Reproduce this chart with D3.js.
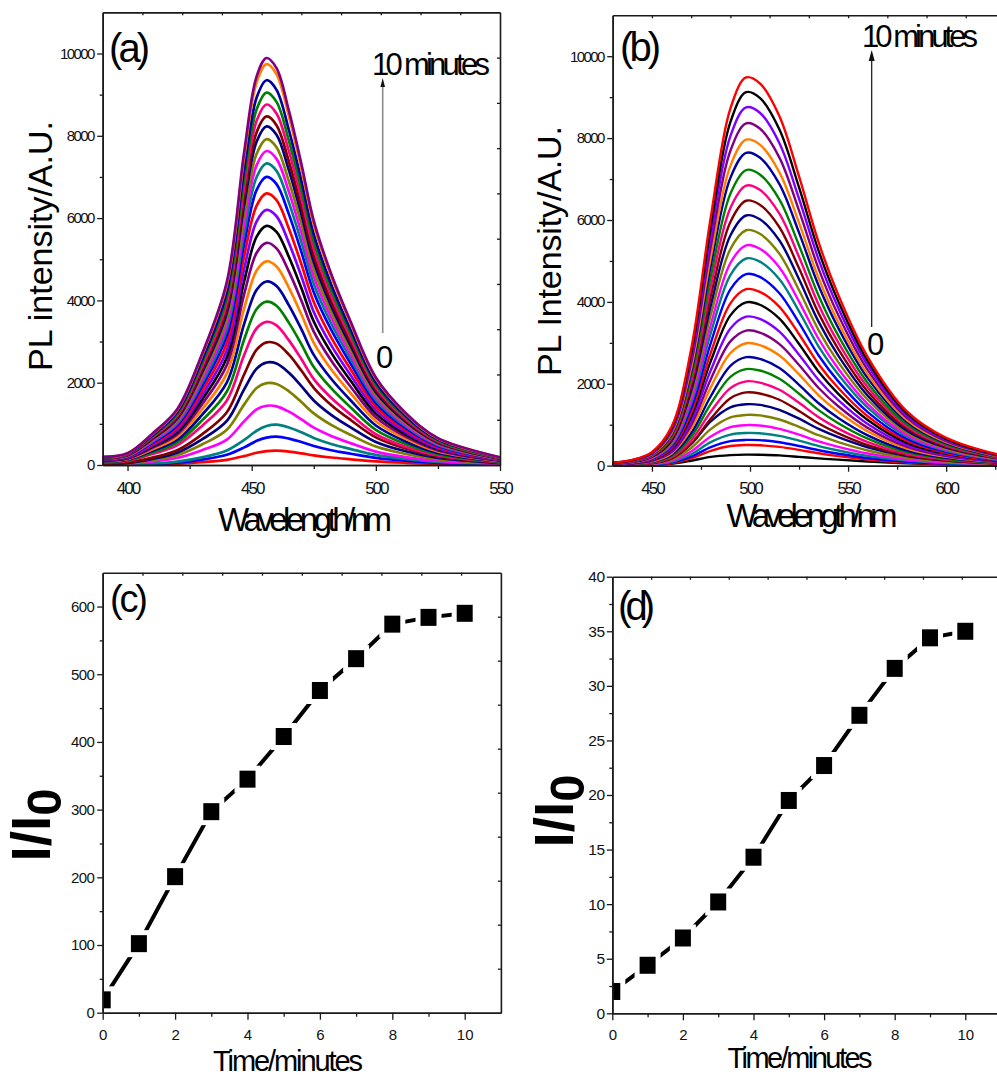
<!DOCTYPE html>
<html><head><meta charset="utf-8">
<script src="https://cdn.jsdelivr.net/npm/d3@7"></script>
<style>
body{margin:0;background:#fff;}
svg{display:block;background:#fff;}
</style></head><body>
<svg id="chart" width="997" height="1078"></svg>
<script>
// ---------------- data ----------------
const wavelengthA = [390,400,410,420,430,440,447,452,456,460,465,470,475,482,490,500,512,525,550];
const intensityA = [
 [0,3,12,30,67,126,217,298,338,350,326,284,235,182,138,88,53,27,8],
 [0,6,24,59,131,248,428,587,666,690,642,559,462,359,273,173,104,54,17],
 [0,8,34,83,186,353,608,833,946,980,911,794,657,510,387,245,147,76,24],
 [14,29,86,173,360,619,1066,1354,1440,1426,1296,1109,907,706,526,324,193,101,30],
 [20,40,119,239,498,856,1473,1871,1990,1970,1791,1532,1254,975,726,448,267,139,42],
 [25,50,149,299,623,1071,1843,2341,2490,2465,2241,1917,1569,1220,909,560,334,174,52],
 [30,60,179,358,745,1281,2205,2801,2980,2950,2682,2295,1877,1460,1088,671,399,209,63],
 [70,101,268,477,950,1566,2680,3323,3480,3393,3028,2575,2088,1636,1218,748,445,230,66],
 [79,115,306,544,1084,1787,3057,3791,3970,3871,3454,2938,2382,1866,1390,854,508,262,75],
 [89,129,343,611,1218,2007,3434,4259,4460,4349,3880,3300,2676,2096,1561,959,571,294,85],
 [99,144,381,678,1351,2228,3812,4727,4950,4826,4307,3663,2970,2327,1733,1064,634,327,94],
 [108,157,416,740,1474,2430,4158,5157,5400,5265,4698,3996,3240,2538,1890,1161,691,356,103],
 [116,168,447,796,1586,2615,4474,5549,5810,5665,5055,4299,3486,2731,2034,1249,744,383,110],
 [124,180,477,849,1693,2790,4774,5921,6200,6045,5394,4588,3720,2914,2170,1333,794,409,118],
 [132,191,508,904,1802,2970,5082,6303,6600,6435,5742,4884,3960,3102,2310,1419,845,436,125],
 [140,203,539,959,1911,3150,5390,6685,7000,6825,6090,5180,4200,3290,2450,1505,896,462,133],
 [147,213,564,1004,2001,3299,5644,7000,7330,7147,6377,5424,4398,3445,2566,1576,938,484,139],
 [153,221,588,1045,2083,3434,5875,7287,7630,7439,6638,5646,4578,3586,2671,1640,977,504,145],
 [158,230,610,1085,2162,3564,6098,7564,7920,7722,6890,5861,4752,3722,2772,1703,1014,523,150],
 [165,239,634,1128,2247,3704,6337,7860,8230,8024,7160,6090,4938,3868,2881,1769,1053,543,156],
 [169,246,652,1160,2312,3812,6522,8089,8470,8258,7369,6268,5082,3981,2965,1821,1084,559,161],
 [175,254,675,1200,2391,3942,6745,8366,8760,8541,7621,6482,5256,4117,3066,1883,1121,578,166],
 [181,262,697,1240,2471,4073,6969,8643,9050,8824,7874,6697,5430,4254,3168,1946,1158,597,172],
 [187,271,720,1281,2553,4208,7200,8929,9350,9116,8135,6919,5610,4395,3273,2010,1197,617,178],
 [195,282,750,1334,2659,4383,7500,9302,9740,9497,8474,7208,5844,4578,3409,2094,1247,643,185],
 [198,287,762,1355,2700,4451,7615,9445,9890,9643,8604,7319,5934,4648,3462,2126,1266,653,188]
];
const wavelengthB = [430,440,450,460,470,480,490,498,505,515,525,535,545,560,580,600,630];
const intensityB = [
 [3,7,16,46,122,216,259,270,267,251,216,178,149,103,57,32,11],
 [5,9,21,60,177,364,480,505,500,460,386,303,235,152,78,41,14],
 [6,11,26,74,221,454,599,630,624,573,482,378,293,189,98,52,17],
 [7,14,33,94,280,576,760,800,792,728,612,480,372,240,124,66,22],
 [9,17,41,117,347,713,941,990,980,901,757,594,460,297,153,81,27],
 [11,21,51,146,434,893,1178,1240,1228,1128,949,744,577,372,192,102,33],
 [14,26,62,177,525,1080,1425,1500,1485,1365,1148,900,698,450,233,123,41],
 [14,27,63,179,537,1146,1647,1790,1763,1611,1334,1029,788,501,251,129,43],
 [16,31,72,206,618,1318,1895,2060,2029,1854,1535,1185,906,577,288,148,49],
 [19,35,83,236,708,1510,2171,2360,2325,2124,1758,1357,1038,661,330,170,57],
 [21,40,93,265,795,1696,2438,2650,2610,2385,1974,1524,1166,742,371,191,64],
 [24,45,105,299,897,1914,2751,2990,2945,2691,2228,1719,1316,837,419,215,72],
 [26,50,116,330,990,2112,3036,3300,3251,2970,2459,1898,1452,924,462,238,79],
 [29,55,127,364,1092,2330,3349,3640,3585,3276,2712,2093,1602,1019,510,262,87],
 [32,60,140,399,1197,2554,3671,3990,3930,3591,2973,2294,1756,1117,559,287,96],
 [34,65,151,431,1293,2758,3965,4310,4245,3879,3211,2478,1896,1207,603,310,103],
 [37,70,164,468,1404,2995,4306,4680,4610,4212,3487,2691,2059,1310,655,337,112],
 [40,76,177,506,1518,3238,4655,5060,4984,4554,3770,2910,2226,1417,708,364,121],
 [43,81,188,538,1614,3443,4950,5380,5299,4842,4008,3094,2367,1506,753,387,129],
 [46,86,201,575,1725,3680,5290,5750,5664,5175,4284,3306,2530,1610,805,414,138],
 [49,92,214,611,1833,3910,5621,6110,6018,5499,4552,3513,2688,1711,855,440,147],
 [52,97,226,647,1941,4141,5952,6470,6373,5823,4820,3720,2847,1812,906,466,155],
 [55,103,239,684,2052,4378,6293,6840,6737,6156,5096,3933,3010,1915,958,492,164],
 [58,108,253,722,2166,4621,6642,7220,7112,6498,5379,4152,3177,2022,1011,520,173],
 [61,115,267,764,2292,4890,7029,7640,7525,6876,5692,4393,3362,2139,1070,550,183],
 [64,119,279,796,2388,5094,7323,7960,7841,7164,5930,4577,3502,2229,1114,573,191],
 [67,125,293,836,2508,5350,7691,8360,8235,7524,6228,4807,3678,2341,1170,602,201],
 [70,131,306,875,2625,5600,8050,8750,8619,7875,6519,5031,3850,2450,1225,630,210],
 [73,137,319,912,2736,5837,8390,9120,8983,8208,6794,5244,4013,2554,1277,657,219],
 [76,142,332,948,2844,6067,8722,9480,9338,8532,7063,5451,4171,2654,1327,683,228]
];
const timeMinutes = [0,1,2,3,4,5,6,7,8,9,10];
const ratioC = [19,102,201,297,345,408,476,523,574,584,590];
const ratioD = [2.0,4.4,6.9,10.2,14.3,19.5,22.7,27.3,31.6,34.4,35.0];

const xTicksA = [400,450,500,550], xMinorA = [425,475,525];
const xTicksB = [450,500,550,600], xMinorB = [475,525,575,625];
const yTicksPL = [0,2000,4000,6000,8000,10000], yMinorPL = [1000,3000,5000,7000,9000];
const timeTicks = [0,2,4,6,8,10], timeMinor = [1,3,5,7,9];
const yTicksC = [0,100,200,300,400,500,600], yMinorC = [50,150,250,350,450,550];
const yTicksD = [0,5,10,15,20,25,30,35,40], yMinorD = [2.5,7.5,12.5,17.5,22.5,27.5,32.5,37.5];

// ---------------- styles ----------------
const FONT = '"Liberation Sans", Arial, sans-serif';
const COL = {black:'#000000', red:'#ff0000', blue:'#0000ff', teal:'#008080', magenta:'#ff00ff',
  olive:'#808000', navy:'#000080', wine:'#800000', pink:'#ff0080', green:'#008000',
  royal:'#0000a0', orange:'#ff8000', purple:'#800080', violet:'#8000ff'};
const paletteA = ['red','blue','teal','magenta','olive','navy','wine','pink','green','royal','orange','purple','black','violet',
  'red','blue','teal','magenta','olive','navy','wine','pink','green','royal','orange','purple'].map(k=>COL[k]);
const paletteB = ['black','red','blue','teal','magenta','olive','navy','wine','pink','green','royal','orange','purple','violet',
  'black','red','blue','teal','magenta','olive','navy','wine','pink','green','royal','orange','purple','violet','black','red'].map(k=>COL[k]);

const svg = d3.select('#chart');
const defs = svg.append('defs');

function styleAxis(sel, fs, ls) {
  sel.attr('font-family', FONT);
  sel.select('.domain').attr('stroke', '#1a1a1a').attr('stroke-width', 1.6);
  sel.selectAll('.tick line').attr('stroke', '#1a1a1a').attr('stroke-width', 1.3);
  sel.selectAll('.tick text').attr('font-size', fs).attr('letter-spacing', ls).attr('fill', '#111');
}

function panel(o) {
  const g = svg.append('g');
  const x = d3.scaleLinear().domain(o.xDomain).range(o.xRange);
  const y = d3.scaleLinear().domain(o.yDomain).range(o.yRange);
  defs.append('clipPath').attr('id', 'clip' + o.id).append('rect')
    .attr('x', o.xRange[0]).attr('y', o.yRange[1])
    .attr('width', o.xRange[1] - o.xRange[0]).attr('height', o.yRange[0] - o.yRange[1]);
  const plot = g.append('g').attr('clip-path', `url(#clip${o.id})`);
  o.draw(plot, x, y);

  const fx = d3.scaleLinear().domain([0,10]).range(o.xRange);
  const fy = d3.scaleLinear().domain([0,10]).range(o.yRange);
  styleAxis(g.append('g').attr('transform', `translate(0,${o.yRange[1]})`)
    .call(d3.axisTop(fx).tickValues(d3.range(1,10)).tickSize(-3).tickSizeOuter(0).tickFormat('')), 10, 0);
  styleAxis(g.append('g').attr('transform', `translate(${o.xRange[1]},0)`)
    .call(d3.axisRight(fy).tickValues(d3.range(1,10)).tickSize(-3).tickSizeOuter(0).tickFormat('')), 10, 0);
  styleAxis(g.append('g').attr('transform', `translate(0,${o.yRange[0]})`)
    .call(d3.axisBottom(x).tickValues(o.xMinor).tickSize(4).tickSizeOuter(0).tickFormat('')), 10, 0);
  styleAxis(g.append('g').attr('transform', `translate(${o.xRange[0]},0)`)
    .call(d3.axisLeft(y).tickValues(o.yMinor).tickSize(3).tickSizeOuter(0).tickFormat('')), 10, 0);
  styleAxis(g.append('g').attr('transform', `translate(0,${o.yRange[0]})`)
    .call(d3.axisBottom(x).tickValues(o.xMajor).tickSize(o.xTick).tickSizeOuter(0).tickPadding(o.xPad).tickFormat(d3.format('d'))),
    o.xFs, o.xLs);
  styleAxis(g.append('g').attr('transform', `translate(${o.xRange[0]},0)`)
    .call(d3.axisLeft(y).tickValues(o.yMajor).tickSize(5.5).tickSizeOuter(0).tickPadding(o.yPad).tickFormat(d3.format('d'))),
    o.yFs, o.yLs);
  return g;
}

function drawSpectra(wl, data, palette, w) {
  return function(plot, x, y) {
    const line = d3.line().x((d,i) => x(wl[i])).y(d => y(d)).curve(d3.curveCatmullRom.alpha(0.5));
    plot.selectAll('path.spec').data(data).join('path').attr('class','spec')
      .attr('d', line).attr('fill','none')
      .attr('stroke', (d,i) => palette[i]).attr('stroke-width', w)
      .attr('stroke-linejoin','round').attr('stroke-linecap','round');
  };
}
function drawRatio(vals) {
  return function(plot, x, y) {
    const line = d3.line().x((d,i) => x(timeMinutes[i])).y(d => y(d));
    plot.append('path').datum(vals).attr('d', line).attr('fill','none')
      .attr('stroke','#000').attr('stroke-width',4);
    plot.selectAll('rect.sym').data(vals).join('rect').attr('class','sym')
      .attr('x', (d,i) => x(timeMinutes[i]) - 10.5).attr('y', d => y(d) - 11)
      .attr('width', 21).attr('height', 22)
      .attr('fill','#000').attr('stroke','#fff').attr('stroke-width',5);
  };
}

function txt(g, s, x, y, fs, opt = {}) {
  const t = g.append('text').attr('x', x).attr('y', y).attr('font-family', FONT)
    .attr('font-size', fs).attr('fill', '#000').text(s);
  if (opt.anchor) t.attr('text-anchor', opt.anchor);
  if (opt.len) t.attr('textLength', opt.len).attr('lengthAdjust', 'spacing');
  if (opt.weight) t.attr('font-weight', opt.weight);
  return t;
}
function vtitle(g, s, cx, cy, fs, len) {
  g.append('text').attr('transform', `translate(${cx},${cy}) rotate(-90)`)
    .attr('text-anchor','middle').attr('font-family', FONT).attr('font-size', fs)
    .attr('textLength', len).attr('lengthAdjust','spacing').text(s);
}
function ratioTitle(g, cx, cy) {
  const t = g.append('text').attr('transform', `translate(${cx},${cy}) rotate(-90)`)
    .attr('text-anchor','middle').attr('font-family', FONT).attr('font-weight','bold');
  t.append('tspan').attr('font-size', 55).text('I/I');
  t.append('tspan').attr('font-size', 49).attr('dy', 11).text('0');
}
function arrow(g, x, y0, y1, col, w, hw, hh) {
  g.append('line').attr('x1', x).attr('x2', x).attr('y1', y0).attr('y2', y1 + hh - 1)
    .attr('stroke', col).attr('stroke-width', w);
  g.append('path').attr('d', `M${x},${y1} L${x-hw},${y1+hh} L${x+hw},${y1+hh} Z`).attr('fill', '#111');
}

// ---------------- panel (a) ----------------
const gA = panel({id:'a', xDomain:[390,550], xRange:[102.7,500], yDomain:[0,11000], yRange:[465,12.35],
  xMajor:xTicksA, xMinor:xMinorA, yMajor:yTicksPL, yMinor:yMinorPL,
  xTick:6, xPad:10.5, xFs:17, xLs:-2, yPad:3.5, yFs:15, yLs:-1.6,
  draw: drawSpectra(wavelengthA, intensityA, paletteA, 2.7)});
txt(gA, '(a)', 109, 61.6, 40, {len:41});
txt(gA, '10 minutes', 372, 75, 31, {len:118});
txt(gA, '0', 376, 368, 31);
arrow(gA, 382.7, 333, 78, '#8a8a8a', 1.6, 2.3, 9);
vtitle(gA, 'PL intensity/A.U.', 52, 246, 34, 250);
txt(gA, 'Wavelength/nm', 305, 531, 33, {anchor:'middle', len:174});

// ---------------- panel (b) ----------------
const gB = panel({id:'b', xDomain:[430,630], xRange:[612.7,1005], yDomain:[0,11000], yRange:[465.7,15.25],
  xMajor:xTicksB, xMinor:xMinorB, yMajor:yTicksPL, yMinor:yMinorPL,
  xTick:6, xPad:10.5, xFs:17, xLs:-2, yPad:3.5, yFs:15, yLs:-1.6,
  draw: drawSpectra(wavelengthB, intensityB, paletteB, 2.4)});
txt(gB, '(b)', 620, 60.6, 40, {len:41});
txt(gB, '10 minutes', 862, 47, 31, {len:116});
txt(gB, '0', 867, 355, 31);
arrow(gB, 871.7, 327, 50, '#111', 1.2, 3, 11);
vtitle(gB, 'PL Intensity/A.U.', 561, 251, 34, 250);
txt(gB, 'Wavelength/nm', 812, 527, 33, {anchor:'middle', len:171});

// ---------------- panel (c) ----------------
const gC = panel({id:'c', xDomain:[0,11], xRange:[102.7,500.9], yDomain:[0,650], yRange:[1012.7,572.7],
  xMajor:timeTicks, xMinor:timeMinor, yMajor:yTicksC, yMinor:yMinorC,
  xTick:7, xPad:9.3, xFs:15, xLs:0, yPad:3, yFs:15, yLs:-0.6,
  draw: drawRatio(ratioC)});
txt(gC, '(c)', 110, 612, 38, {len:38});
ratioTitle(gC, 50, 825);
txt(gC, 'Time/minutes', 288, 1071, 29, {anchor:'middle', len:150});

// ---------------- panel (d) ----------------
const gD = panel({id:'d', xDomain:[0,11], xRange:[612.3,1000.6], yDomain:[0,40], yRange:[1013.3,576.7],
  xMajor:timeTicks, xMinor:timeMinor, yMajor:yTicksD, yMinor:yMinorD,
  xTick:7, xPad:9, xFs:15, xLs:0, yPad:2, yFs:15.5, yLs:-0.4,
  draw: drawRatio(ratioD)});
txt(gD, '(d)', 618, 620, 40, {len:37});
ratioTitle(gD, 573, 811);
txt(gD, 'Time/minutes', 800, 1068, 29, {anchor:'middle', len:145});
</script>
</body></html>
